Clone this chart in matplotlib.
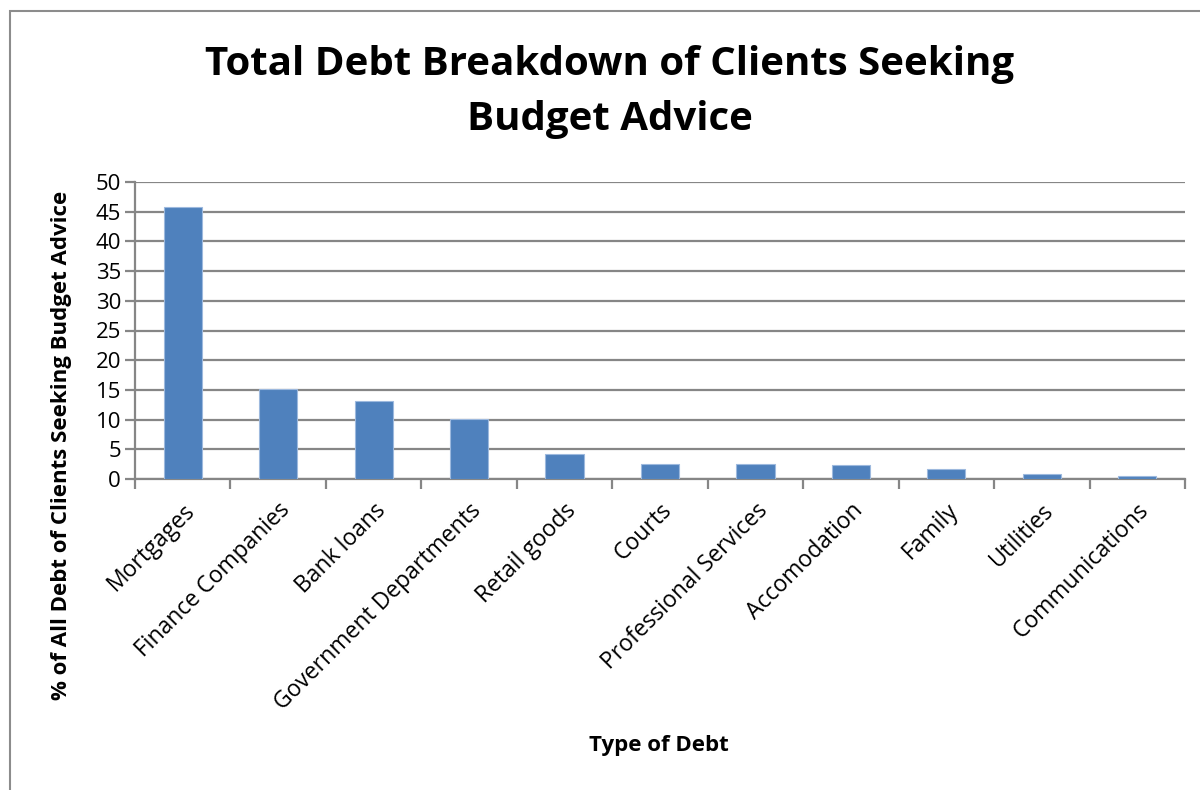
import matplotlib.pyplot as plt
from matplotlib.patches import Rectangle

categories = [
    "Mortgages", "Finance Companies", "Bank loans", "Government Departments",
    "Retail goods", "Courts", "Professional Services", "Accomodation",
    "Family", "Utilities", "Communications",
]
percent = [45.8, 15.1, 13.2, 10.15, 4.25, 2.6, 2.5, 2.35, 1.7, 0.9, 0.55]
y_ticks = [0, 5, 10, 15, 20, 25, 30, 35, 40, 45, 50]

W, H = 1200, 790
fig = plt.figure(figsize=(12, 7.9), dpi=100)
plt.rcParams["font.family"] = ["Open Sans", "DejaVu Sans"]

# chart frame (runs off the right and bottom edge)
fig.patches.append(Rectangle((10 / W, -0.05), 1.1, 1.05 - 11 / H,
                             transform=fig.transFigure, fill=False,
                             edgecolor="#8c8c8c", linewidth=1.5))

left, right, top, bottom = 135, 1185, 182, 479
ax = fig.add_axes([left / W, 1 - bottom / H, (right - left) / W, (bottom - top) / H])

x = list(range(len(categories)))
ax.bar(x, percent, width=0.4, color="#4F81BD", edgecolor="#9DB9DE",
       linewidth=0.8, zorder=3)

ax.set_xlim(-0.5, len(categories) - 0.5)
ax.set_ylim(0, 50)
ax.set_yticks(y_ticks)
ax.set_yticklabels([str(t) for t in y_ticks], fontsize=16)
ax.yaxis.grid(True, color="#868686", linewidth=1.6, zorder=0)
ax.set_axisbelow(True)

# category ticks sit on the boundaries between bars
ax.set_xticks([i - 0.5 for i in range(len(categories) + 1)], minor=False)
ax.set_xticklabels([])
ax.set_xticks(x, minor=True)
ax.set_xticklabels(categories, minor=True, rotation=45, ha="right",
                   rotation_mode="anchor", fontsize=16.5)
ax.tick_params(axis="x", which="major", length=7, width=1.6, color="#868686")
ax.tick_params(axis="x", which="minor", length=0, pad=14)
ax.tick_params(axis="y", length=7, width=1.6, color="#868686", pad=3)

for side in ["top", "right"]:
    ax.spines[side].set_visible(False)
for side in ["left", "bottom"]:
    ax.spines[side].set_color("#868686")
    ax.spines[side].set_linewidth(1.6)

fig.text(610 / W, 1 - 92 / H,
         "Total Debt Breakdown of Clients Seeking\nBudget Advice",
         ha="center", va="center", fontsize=29, fontweight="bold",
         linespacing=1.55)
fig.text(62 / W, 1 - 445 / H, "% of All Debt of Clients Seeking Budget Advice",
         ha="center", va="center", rotation=90, fontsize=16,
         fontweight="bold")
fig.text(659 / W, 1 - 746 / H, "Type of Debt", ha="center", va="center",
         fontsize=16, fontweight="bold")

fig.savefig("out.png", dpi=100, facecolor="white")
